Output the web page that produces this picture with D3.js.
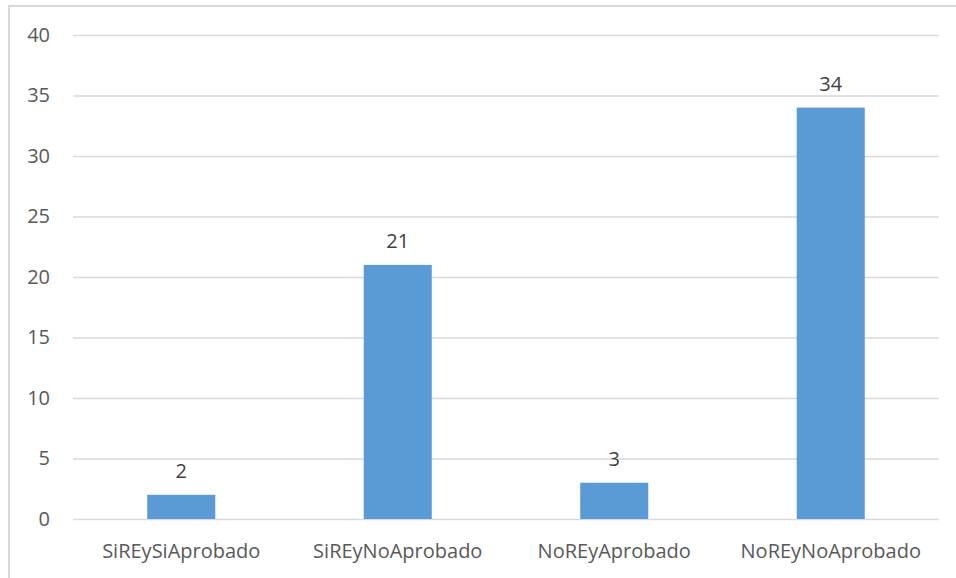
<!DOCTYPE html>
<html><head><meta charset="utf-8">
<script src="https://cdn.jsdelivr.net/npm/d3@7"></script>
<style>body{margin:0;background:#fff}svg{display:block}text{font-family:"Open Sans",sans-serif}</style>
</head><body><svg id="c" width="956" height="578"></svg>
<script>
const categories = ["SiREySiAprobado","SiREyNoAprobado","NoREyAprobado","NoREyNoAprobado"];
const values = [2,21,3,34];
const yTicks = [0,5,10,15,20,25,30,35,40];

const svg = d3.select("#c");
const m = {l:73, r:939, t:35, b:519};
svg.append("rect").attr("x",9).attr("y",6).attr("width",960).attr("height",600)
  .attr("fill","none").attr("stroke","#d9d9d9").attr("stroke-width",2);

const x = d3.scaleBand().domain(categories).range([m.l,m.r]).paddingInner(0.6857).paddingOuter(0.3429);
const y = d3.scaleLinear().domain([0,40]).range([m.b,m.t]);

const yAxis = svg.append("g").attr("transform",`translate(${m.l},0)`)
  .call(d3.axisLeft(y).tickValues(yTicks).tickSize(-(m.r-m.l)).tickPadding(23));
yAxis.select(".domain").remove();
yAxis.selectAll("line").attr("stroke","#d9d9d9").attr("stroke-width",1.3);
yAxis.selectAll("text").attr("fill","#595959").style("font-size","20px");

const xAxis = svg.append("g").attr("transform",`translate(0,${m.b})`)
  .call(d3.axisBottom(x).tickSize(0).tickPadding(25));
xAxis.select(".domain").remove();
xAxis.selectAll("text").attr("fill","#595959").style("font-size","20px");

svg.selectAll("rect.bar").data(values).join("rect").attr("class","bar")
  .attr("x",(d,i)=>x(categories[i])).attr("width",x.bandwidth())
  .attr("y",d=>y(d)).attr("height",d=>y(0)-y(d)).attr("fill","#5b9bd5");

svg.selectAll("text.lbl").data(values).join("text").attr("class","lbl")
  .attr("x",(d,i)=>x(categories[i])+x.bandwidth()/2).attr("y",d=>y(d)-17)
  .attr("text-anchor","middle").attr("fill","#404040").style("font-size","20px").text(d=>d);
</script></body></html>
